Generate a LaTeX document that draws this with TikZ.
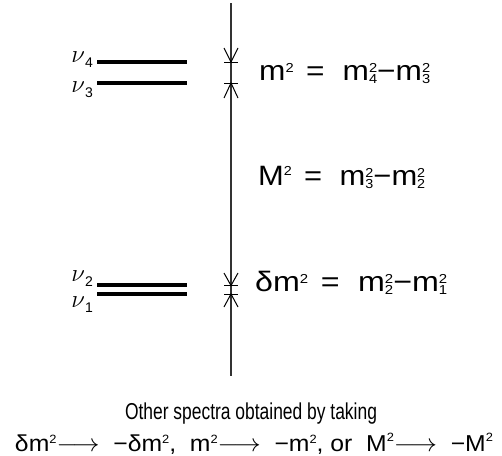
\documentclass[tikz,border=0pt]{standalone}
\usepackage{fontspec}
\setmainfont{Liberation Sans}
\usepackage{graphicx}
\newcommand\Sup[1]{\raisebox{7.5pt}{\fontsize{13}{13}\selectfont #1}}
\newcommand\SupC[1]{\raisebox{10pt}{\fontsize{13}{13}\selectfont #1}}
\newcommand\Sub[1]{\raisebox{-3.5pt}{\fontsize{13}{13}\selectfont #1}}
\newcommand\SupSub[2]{\rlap{\Sup{#1}}\Sub{#2}}
\newcommand\Eq{\hspace{11pt}=\hspace{16pt}}
\newcommand\Nu[1]{$\nu$\raisebox{-5.5pt}{\fontsize{14}{14}\selectfont #1}}
\newcommand\bSup[1]{\raisebox{7.5pt}{\fontsize{12}{12}\selectfont #1}}
\newcommand\bSupC[1]{\raisebox{9.5pt}{\fontsize{12}{12}\selectfont #1}}
\newcommand\Arr{$\longrightarrow$\ \ }
\begin{document}
\begin{tikzpicture}[x=1pt,y=-1pt,
  level/.style={line width=4pt},
  axis/.style={line width=1.3pt,draw=black!80},
  dimmark/.style={line width=1pt},
  nulabel/.style={anchor=base east,inner sep=0pt,font=\fontsize{32}{32}\selectfont},
  eqlabel/.style={anchor=base west,inner sep=0pt,font=\fontsize{28}{30}\selectfont},
  note/.style={anchor=base,inner sep=0pt,font=\fontsize{23}{26}\selectfont}]
\useasboundingbox (0,0) rectangle (502,455);
% vertical axis
\coordinate (top) at (231,3);
\coordinate (bot) at (231,376);
\draw[axis] (top) -- (bot);
% levels
\coordinate (l4a) at (97,62); \coordinate (l4b) at (187,62);
\coordinate (l3a) at (97,83); \coordinate (l3b) at (187,83);
\coordinate (l2a) at (97,285); \coordinate (l2b) at (187,285);
\coordinate (l1a) at (97,294); \coordinate (l1b) at (187,294);
\draw[level] (l4a) -- (l4b);
\draw[level] (l3a) -- (l3b);
\draw[level] (l2a) -- (l2b);
\draw[level] (l1a) -- (l1b);
% labels
\node[nulabel] (n4) at (93,62) {\Nu{4}};
\node[nulabel] (n3) at (93,92) {\Nu{3}};
\node[nulabel] (n2) at (93,281) {\Nu{2}};
\node[nulabel] (n1) at (93,307) {\Nu{1}};
% dimension marks
\draw[dimmark] (224,48) -- (231,62) -- (238,48);
\draw[dimmark] (224,62) -- (238,62);
\draw[dimmark] (224,98) -- (231,83) -- (238,98);
\draw[dimmark] (224,83) -- (238,83);
\draw[dimmark] (224,273) -- (231,285.5) -- (238,273);
\draw[dimmark] (224,285.5) -- (238,285.5);
\draw[dimmark] (224,307) -- (231,294) -- (238,307);
\draw[dimmark] (224,294) -- (238,294);
% equations
\node[eqlabel] (e1) at (259,80) {\resizebox{171pt}{\height}{m\Sup{2}\Eq m\SupSub{2}{4}−m\SupSub{2}{3}}};
\node[eqlabel] (e2) at (258,185) {\resizebox{167pt}{\height}{M\SupC{2}\Eq m\SupSub{2}{3}−m\SupSub{2}{2}}};
\node[eqlabel] (e3) at (255,291) {\resizebox{192pt}{\height}{δm\Sup{2}\Eq m\SupSub{2}{2}−m\SupSub{2}{1}}};
% notes
\node[note] (t1) at (251,419) {\resizebox{252pt}{\height}{Other spectra obtained by taking}};
\node[note] (t2) at (254,451) {\resizebox{478pt}{\height}{δm\bSup{2}\Arr −δm\bSup{2},\ \ m\bSup{2}\Arr −m\bSup{2}, or \ M\bSupC{2}\Arr −M\bSupC{2}}};
\end{tikzpicture}
\end{document}
